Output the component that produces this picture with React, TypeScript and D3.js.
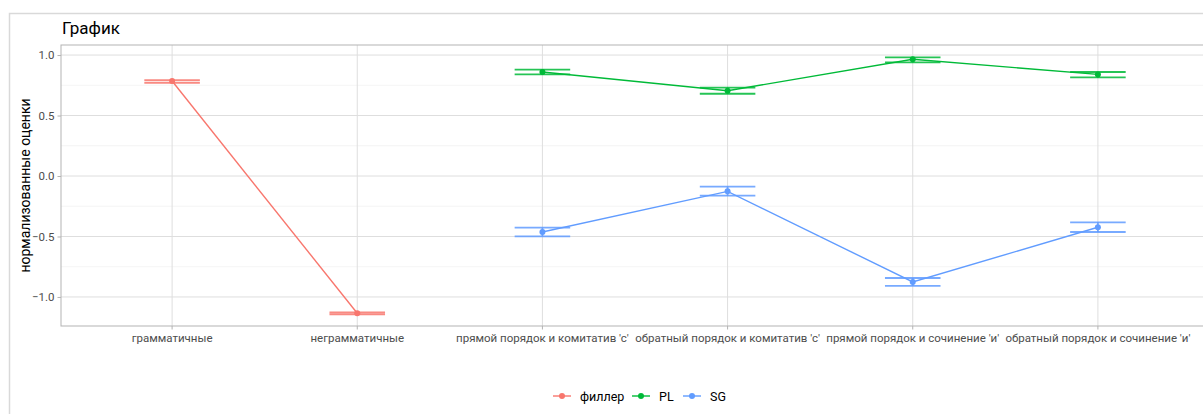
import { useEffect, useRef } from 'react';
import * as d3 from 'd3';

// categories on the x axis
const CATEGORIES = [
  'грамматичные',
  'неграмматичные',
  "прямой порядок и комитатив 'с'",
  "обратный порядок и комитатив 'с'",
  "прямой порядок и сочинение 'и'",
  "обратный порядок и сочинение 'и'",
];

const SERIES_NAMES = ['филлер', 'PL', 'SG'];

// series color → ggplot hue defaults
const SERIES_COLORS: Record<string, string> = {
  'филлер': '#F8766D',
  PL: '#00BA38',
  SG: '#619CFF',
};

// mean, lower, upper per category index
const FILLER_CATS = [0, 1];
const FILLER_MEAN = [0.785, -1.135];
const FILLER_LO = [0.771, -1.143];
const FILLER_HI = [0.793, -1.127];

const PL_CATS = [2, 3, 4, 5];
const PL_MEAN = [0.86, 0.705, 0.965, 0.84];
const PL_LO = [0.84, 0.68, 0.94, 0.815];
const PL_HI = [0.88, 0.73, 0.98, 0.86];

const SG_CATS = [2, 3, 4, 5];
const SG_MEAN = [-0.463, -0.127, -0.876, -0.424];
const SG_LO = [-0.499, -0.163, -0.909, -0.463];
const SG_HI = [-0.427, -0.088, -0.843, -0.383];

const Y_TICKS = [-1.0, -0.5, 0.0, 0.5, 1.0];
const Y_MINOR = [-0.75, -0.25, 0.25, 0.75];

interface Pt { cat: number; mean: number; lo: number; hi: number }

function build(cats: number[], mean: number[], lo: number[], hi: number[]): Pt[] {
  return cats.map((c, i) => ({ cat: c, mean: mean[i], lo: lo[i], hi: hi[i] }));
}

const W = 1203;
const H = 414;

export default function App() {
  const svgRef = useRef<SVGSVGElement>(null);

  useEffect(() => {
    if (!svgRef.current) return;
    const svg = d3.select(svgRef.current);
    svg.selectAll('*').remove();

    const font = 'Roboto, "Liberation Sans", Arial, sans-serif';
    const panel = { left: 61, right: 1209, top: 45, bottom: 326 };

    const x = d3.scaleBand<number>()
      .domain(d3.range(CATEGORIES.length))
      .range([panel.left, panel.right])
      .paddingOuter(0.1)
      .paddingInner(0);
    const cx = (i: number) => (x(i) ?? 0) + x.bandwidth() / 2;
    const y = d3.scaleLinear().domain([-1.24, 1.083]).range([panel.bottom, panel.top]);

    // outer frame of the screenshot
    svg.append('rect').attr('x', 9.5).attr('y', 13.5).attr('width', W).attr('height', H)
      .attr('fill', 'white').attr('stroke', '#d9d9d9').attr('stroke-width', 1.5);

    // title
    svg.append('text').attr('x', 62).attr('y', 34)
      .attr('font-family', font).attr('font-size', 17).attr('fill', '#000')
      .text('График');

    // grid
    const grid = svg.append('g');
    Y_MINOR.forEach(v => {
      grid.append('line').attr('x1', panel.left).attr('x2', panel.right)
        .attr('y1', y(v)).attr('y2', y(v)).attr('stroke', '#ececec').attr('stroke-width', 0.6);
    });
    Y_TICKS.forEach(v => {
      grid.append('line').attr('x1', panel.left).attr('x2', panel.right)
        .attr('y1', y(v)).attr('y2', y(v)).attr('stroke', '#dedede').attr('stroke-width', 1);
    });
    CATEGORIES.forEach((_, i) => {
      grid.append('line').attr('x1', cx(i)).attr('x2', cx(i))
        .attr('y1', panel.top).attr('y2', panel.bottom).attr('stroke', '#dedede').attr('stroke-width', 1);
    });

    // panel border
    svg.append('rect').attr('x', panel.left).attr('y', panel.top)
      .attr('width', panel.right - panel.left).attr('height', panel.bottom - panel.top)
      .attr('fill', 'none').attr('stroke', '#b3b3b3').attr('stroke-width', 1);

    // y axis
    const yAxis = svg.append('g').attr('transform', `translate(${panel.left},0)`)
      .call(d3.axisLeft(y).tickValues(Y_TICKS).tickFormat(d3.format('.1f')).tickSize(3.5).tickPadding(3));
    yAxis.select('.domain').remove();
    yAxis.selectAll('line').attr('stroke', '#b3b3b3');
    yAxis.selectAll('text').attr('font-family', font).attr('font-size', 11.5).attr('fill', '#4d4d4d');

    // x axis
    const xAxis = svg.append('g').attr('transform', `translate(0,${panel.bottom})`)
      .call(d3.axisBottom(x).tickFormat(i => CATEGORIES[i as number]).tickSize(3.5).tickPadding(4));
    xAxis.select('.domain').remove();
    xAxis.selectAll('line').attr('stroke', '#b3b3b3');
    xAxis.selectAll('text').attr('font-family', font).attr('font-size', 11.5).attr('fill', '#4d4d4d');

    // y label
    svg.append('text')
      .attr('transform', `translate(30,${(panel.top + panel.bottom) / 2}) rotate(-90)`)
      .attr('text-anchor', 'middle')
      .attr('font-family', font).attr('font-size', 14).attr('fill', '#000')
      .text('нормализованные оценки');

    // series
    const data: Record<string, Pt[]> = {
      'филлер': build(FILLER_CATS, FILLER_MEAN, FILLER_LO, FILLER_HI),
      PL: build(PL_CATS, PL_MEAN, PL_LO, PL_HI),
      SG: build(SG_CATS, SG_MEAN, SG_LO, SG_HI),
    };
    const halfW = x.bandwidth() * 0.15;
    const line = d3.line<Pt>().x(d => cx(d.cat)).y(d => y(d.mean));

    SERIES_NAMES.forEach(name => {
      const pts = data[name];
      const col = SERIES_COLORS[name];
      const g = svg.append('g');
      // error bars (caps only, like geom_errorbar with narrow range)
      pts.forEach(p => {
        [p.lo, p.hi].forEach(v => {
          g.append('line').attr('x1', cx(p.cat) - halfW).attr('x2', cx(p.cat) + halfW)
            .attr('y1', y(v)).attr('y2', y(v))
            .attr('stroke', col).attr('stroke-width', 1.8).attr('opacity', 0.85);
        });
        g.append('line').attr('x1', cx(p.cat)).attr('x2', cx(p.cat))
          .attr('y1', y(p.lo)).attr('y2', y(p.hi))
          .attr('stroke', col).attr('stroke-width', 1.8).attr('opacity', 0.85);
      });
      g.append('path').attr('d', line(pts) ?? '')
        .attr('fill', 'none').attr('stroke', col).attr('stroke-width', 1.4);
      g.selectAll('circle').data(pts).enter().append('circle')
        .attr('cx', d => cx(d.cat)).attr('cy', d => y(d.mean)).attr('r', 3)
        .attr('fill', col);
    });

    // legend
    const legend = svg.append('g').attr('transform', 'translate(0,396)');
    const keyX = [553, 632, 683];
    SERIES_NAMES.forEach((name, i) => {
      const col = SERIES_COLORS[name];
      legend.append('line').attr('x1', keyX[i]).attr('x2', keyX[i] + 18)
        .attr('y1', 0).attr('y2', 0).attr('stroke', col).attr('stroke-width', 1.4);
      legend.append('circle').attr('cx', keyX[i] + 9).attr('cy', 0).attr('r', 3).attr('fill', col);
      legend.append('text').attr('x', keyX[i] + 27).attr('y', 4.5)
        .attr('font-family', font).attr('font-size', 12.5).attr('fill', '#000')
        .text(name);
    });
  }, []);

  return (
    <svg
      ref={svgRef}
      width={W}
      height={H}
      style={{ position: 'fixed', top: 0, left: 0, background: 'white' }}
    />
  );
}
